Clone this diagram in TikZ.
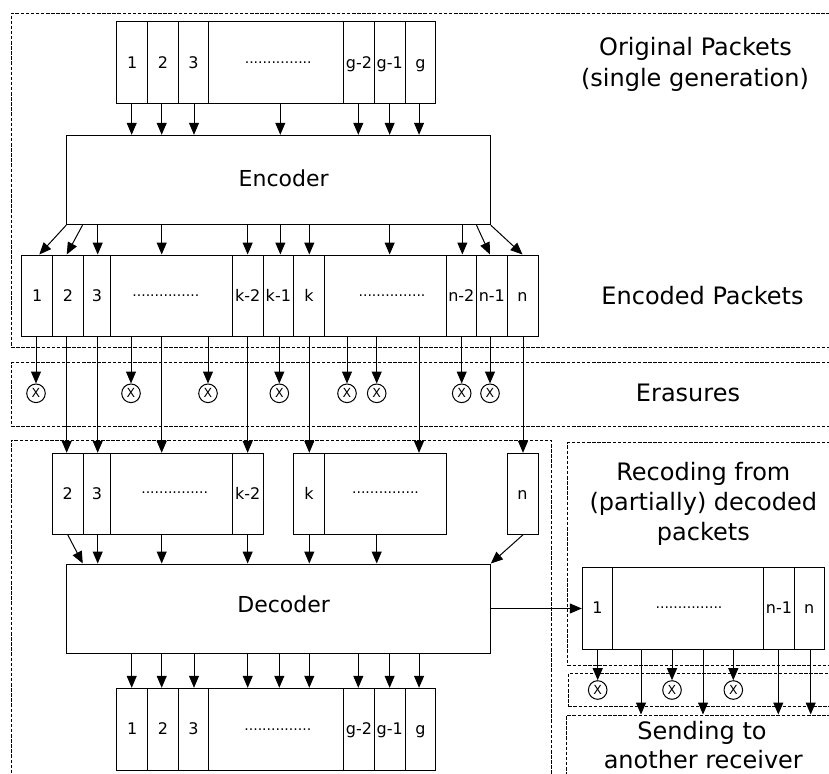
\documentclass[tikz,border=0pt]{standalone}
\usepackage{fontspec}
\setmainfont{DejaVu Sans}
\usetikzlibrary{arrows.meta}
\newcommand\pktcell[6]{\node[cell, minimum width=#4pt, minimum height=#5pt] (#1) at (#2,#3) {#6};}
\begin{document}
\begin{tikzpicture}[x=1pt,y=-1pt, line width=1pt,
  cell/.style={draw, rectangle, inner sep=0pt, text height=11.6pt, text depth=0pt, font=\fontsize{16}{16}\selectfont},
  box/.style={draw, rectangle, inner sep=0pt},
  frame/.style={draw, rectangle, inner sep=0pt, line width=1pt, dash pattern=on 3.5pt off 1.6pt},
  arr/.style={-{Triangle[length=12pt,width=10pt]}},
  era/.style={draw, circle, minimum size=18.6pt, inner sep=0pt, font=\fontsize{12.5}{12.5}\selectfont},
  dotsl/.style={inner sep=0pt, font=\fontsize{14}{14}\selectfont},
  lab/.style={anchor=base, inner sep=0pt, font=\fontsize{24}{30}\selectfont},
  boxlab/.style={anchor=base, inner sep=0pt, font=\fontsize{22}{26}\selectfont},
]
\useasboundingbox (0,0) rectangle (829,773);
\clip (0,0) rectangle (829,773);

% frames
\node[frame, minimum width=834pt, minimum height=334pt] (f1) at (428,180.3) {};
\node[frame, minimum width=834pt, minimum height=64pt] (f2) at (428,394.7) {};
\node[frame, minimum width=540pt, minimum height=360pt] (f3) at (281,620) {};
\node[frame, minimum width=277.3pt, minimum height=223pt] (f4) at (706.35,554.2) {};
\node[frame, minimum width=276.7pt, minimum height=32.7pt] (f5) at (706.65,689.65) {};
\node[frame, minimum width=278.3pt, minimum height=85pt] (f6) at (705.85,757.5) {};

% original packets
\pktcell{o1}{132.2}{62.85}{31}{81.7}{1}
\pktcell{o2}{163}{62.85}{30.6}{81.7}{2}
\pktcell{o3}{193.5}{62.85}{30.4}{81.7}{3}
\pktcell{od}{276.2}{62.85}{135}{81.7}{}
\pktcell{og2}{359}{62.85}{30.6}{81.7}{g-2}
\pktcell{og1}{389.65}{62.85}{30.7}{81.7}{g-1}
\pktcell{og}{420.35}{62.85}{30.7}{81.7}{g}
\node[dotsl] (dt1) at (278.2,62.7) {...............};

% encoder
\node[box, minimum width=423.6pt, minimum height=89.4pt] (enc) at (278.5,180) {};
\node[boxlab] (enclab) at (283.7,186.7) {Encoder};

% encoded packets
\pktcell{c1}{37.2}{295.85}{31}{81.7}{1}
\pktcell{c2}{67.85}{295.85}{30.3}{81.7}{2}
\pktcell{c3}{96.85}{295.85}{27.7}{81.7}{3}
\pktcell{cd1}{171.5}{295.85}{121.6}{81.7}{}
\pktcell{ck2}{247.65}{295.85}{30.7}{81.7}{k-2}
\pktcell{ck1}{278.35}{295.85}{30.7}{81.7}{k-1}
\pktcell{ck}{309}{295.85}{30.6}{81.7}{k}
\pktcell{cd2}{385.15}{295.85}{121.7}{81.7}{}
\pktcell{cn2}{461.35}{295.85}{30.7}{81.7}{n-2}
\pktcell{cn1}{491.85}{295.85}{30.3}{81.7}{n-1}
\pktcell{cn}{522.5}{295.85}{31}{81.7}{n}
\node[dotsl] (dt2) at (165.8,295.7) {...............};
\node[dotsl] (dt3) at (392,295.7) {...............};

% received packets
\pktcell{r2}{67.75}{493.8}{30.5}{81}{2}
\pktcell{r3}{96.85}{493.8}{27.7}{81}{3}
\pktcell{rd1}{171.5}{493.8}{121.6}{81}{}
\pktcell{rk2}{247.65}{493.8}{30.7}{81}{k-2}
\pktcell{rk}{309}{493.8}{30.6}{81}{k}
\pktcell{rd2}{385.15}{493.8}{121.7}{81}{}
\pktcell{rn}{522.5}{493.8}{31}{81}{n}
\node[dotsl] (dt4) at (174.7,492.3) {...............};
\node[dotsl] (dt5) at (385.5,492.3) {...............};

% decoder
\node[box, minimum width=423.6pt, minimum height=89pt] (dec) at (278.5,608.5) {};
\node[boxlab] (declab) at (283.7,612.7) {Decoder};

% decoded packets
\pktcell{b1}{132.2}{729.15}{31}{81.7}{1}
\pktcell{b2}{163}{729.15}{30.6}{81.7}{2}
\pktcell{b3}{193.5}{729.15}{30.4}{81.7}{3}
\pktcell{bd}{276.2}{729.15}{135}{81.7}{}
\pktcell{bg2}{359}{729.15}{30.6}{81.7}{g-2}
\pktcell{bg1}{389.65}{729.15}{30.7}{81.7}{g-1}
\pktcell{bg}{420.35}{729.15}{30.7}{81.7}{g}
\node[dotsl] (dt6) at (277.8,729.3) {...............};

% recoded packets
\pktcell{q1}{597.5}{608.15}{30.4}{81.7}{1}
\pktcell{qd}{688.2}{608.15}{151}{81.7}{}
\pktcell{qn1}{779}{608.15}{30.6}{81.7}{n-1}
\pktcell{qn}{809.3}{608.15}{30}{81.7}{n}
\node[dotsl] (dt7) at (689,607.3) {...............};

% labels
\node[lab] (l1) at (695.5,56) {Original Packets};
\node[lab] (l2) at (695,86.7) {(single generation)};
\node[lab] (l3) at (702.5,304) {Encoded Packets};
\node[lab] (l4) at (688,401) {Erasures};
\node[lab] (l5) at (703.3,480) {Recoding from};
\node[lab] (l6) at (703.3,510) {(partially) decoded};
\node[lab] (l7) at (703.3,540) {packets};
\node[lab] (l8) at (702,739.5) {Sending to};
\node[lab] (l9) at (703.3,768.5) {another receiver};

% original -> encoder
\foreach \n/\dx [count=\i] in {o1/-0.5,o2/-1.3,o3/0.5,od/4.1,og2/-0.7,og1/0,og/-1.3}{
  \coordinate (ta\i) at ([xshift=\dx pt]\n.south);
  \draw[arr] (ta\i) -- (ta\i |- enc.north);
}
% encoder -> encoded
\draw[arr] (enc.south west) -- ([xshift=2.1pt]c1.north);
\draw[arr] ([xshift=16.3pt]enc.south west) -- ([xshift=-1.15pt]c2.north);
\foreach \n/\dx [count=\i] in {c3/0.85,cd1/-9.8,ck2/0,ck1/2,ck/0.3,cd2/4.5,cn2/1}{
  \coordinate (tb\i) at ([xshift=\dx pt]\n.north);
  \draw[arr] (tb\i |- enc.south) -- (tb\i);
}
\draw[arr] ([xshift=-14.3pt]enc.south east) -- ([xshift=-1.85pt]cn1.north);
\draw[arr] (enc.south east) -- (cn.north);

% erasures
\foreach \n/\xx [count=\i] in {c1/36,cd1/131,cd1/208,ck1/279.3,cd2/347,cd2/376.7,cn2/461.7,cn1/490}{
  \node[era] (e\i) at (\xx,393.3) {X};
  \draw[arr] (e\i.north |- \n.south) -- (e\i.north);
}

% encoded -> received
\foreach \c/\r/\dx [count=\i] in {c2/r2/-1.05,c3/r3/0.85,cd1/rd1/-9.8,ck2/rk2/0,ck/rk/0.3,cd2/rd2/33.85,cn/rn/0.5}{
  \coordinate (pr\i) at ([xshift=\dx pt]\r.north);
  \draw[arr] (pr\i |- \c.south) -- (pr\i);
}

% received -> decoder
\draw[arr] (r2.south) -- ([xshift=16.6pt]dec.north west);
\foreach \n/\dx [count=\i] in {r3/0.85,rd1/-9.8,rk2/0,rk/0.3,rd2/-8.45}{
  \coordinate (pd\i) at ([xshift=\dx pt]\n.south);
  \draw[arr] (pd\i) -- (pd\i |- dec.north);
}
\draw[arr] ([xshift=0.5pt]rn.south) -- (dec.north east);

% decoder -> decoded
\foreach \n/\dx [count=\i] in {b1/-0.5,b2/-1.3,b3/0.5,bd/-28.5,bd/3.1,bd/33.1,bg2/-0.7,bg1/0,bg/-1.3}{
  \coordinate (pb\i) at ([xshift=\dx pt]\n.north);
  \draw[arr] (pb\i |- dec.south) -- (pb\i);
}

% decoder -> recoding
\draw[arr] (dec.east) -- (dec.east -| q1.west);

% recoding erasures
\foreach \xx [count=\i] in {597.7,672,733.3}{
  \node[era] (re\i) at (\xx,690) {X};
  \draw[arr] (re\i.north |- qd.south) -- (re\i.north);
}
% recoding -> sending
\foreach \n/\dx [count=\i] in {qd/-47.2,qd/14.8,qn1/-0.7,qn/1.4}{
  \coordinate (pq\i) at ([xshift=\dx pt]\n.south);
  \draw[arr] (pq\i) -- (pq\i |- f6.north);
}
\end{tikzpicture}
\end{document}
